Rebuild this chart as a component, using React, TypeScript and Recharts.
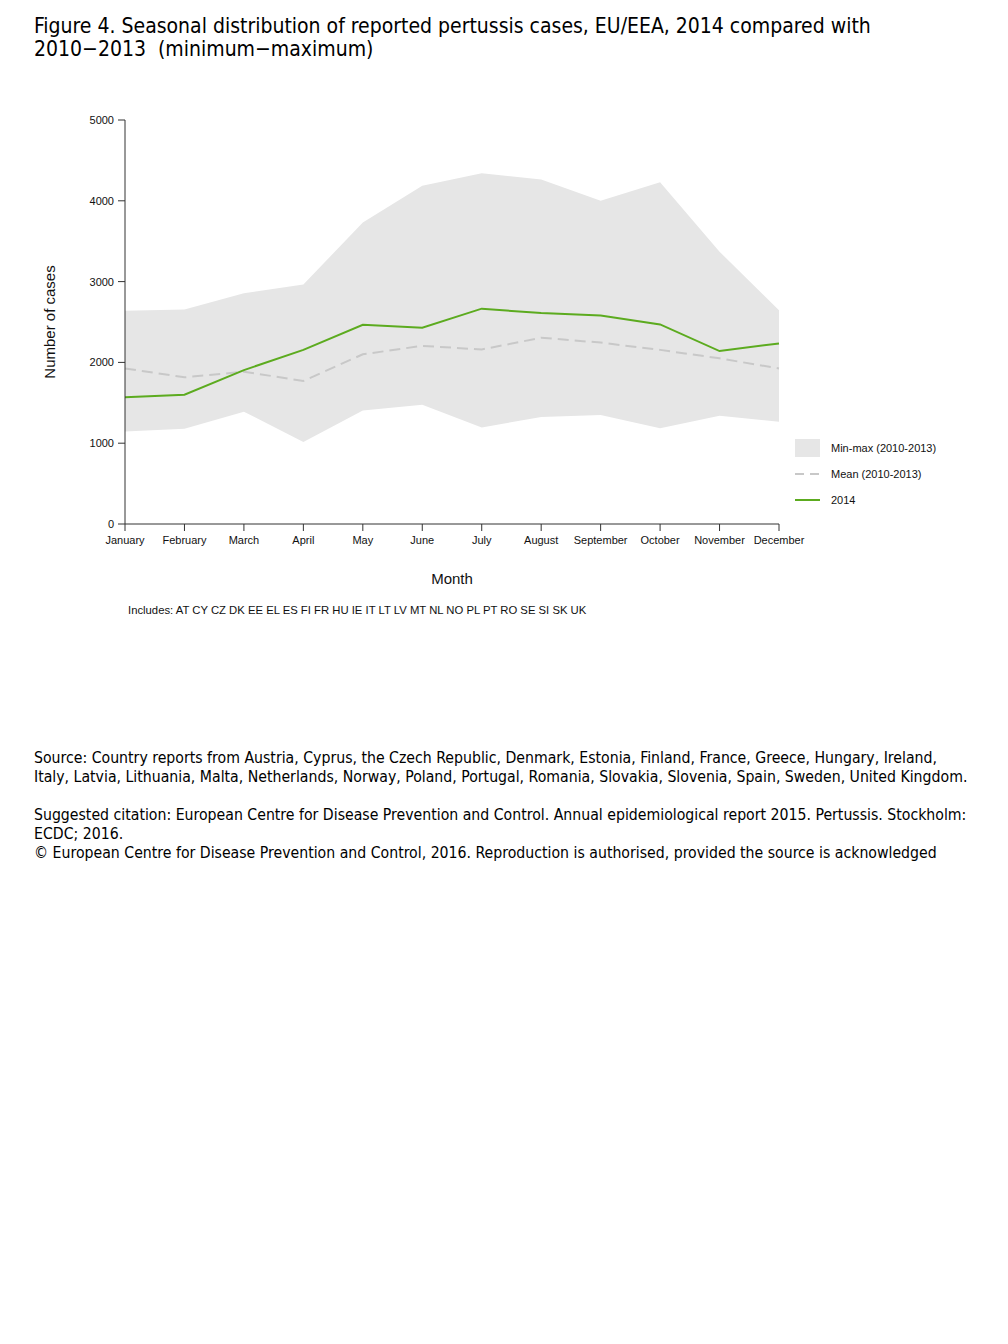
import { Area, ComposedChart, Line, XAxis, YAxis } from 'recharts'

const MONTHS = [
  'January', 'February', 'March', 'April', 'May', 'June',
  'July', 'August', 'September', 'October', 'November', 'December',
]
const MIN_2010_2013 = [1145, 1180, 1390, 1015, 1405, 1475, 1195, 1325, 1350, 1185, 1340, 1265]
const MAX_2010_2013 = [2640, 2655, 2855, 2965, 3730, 4185, 4340, 4265, 4000, 4230, 3370, 2645]
const MEAN_2010_2013 = [1925, 1815, 1885, 1770, 2100, 2205, 2160, 2305, 2245, 2155, 2050, 1925]
const CASES_2014 = [1570, 1600, 1905, 2155, 2465, 2430, 2665, 2610, 2580, 2470, 2140, 2235]
const Y_TICKS = [0, 1000, 2000, 3000, 4000, 5000]

const COLORS = {
  band: '#e6e6e6',
  mean: '#c8c8c8',
  y2014: '#5cab1f',
  axis: '#333333',
}

const CHART_FONT = 'Arial, "Liberation Sans", sans-serif'
const TEXT_FONT = '"DejaVu Sans Condensed", "DejaVu Sans", sans-serif'

const data = MONTHS.map((month, i) => ({
  month,
  range: [MIN_2010_2013[i], MAX_2010_2013[i]],
  mean: MEAN_2010_2013[i],
  y2014: CASES_2014[i],
}))

function LegendBox() {
  const item = { display: 'flex', alignItems: 'center', height: 26 }
  const label = { marginLeft: 11, fontSize: 11, color: '#111', fontFamily: CHART_FONT }
  return (
    <div style={{ position: 'absolute', left: 795, top: 435 }}>
      <div style={item}>
        <svg width={25} height={18}><rect width={25} height={18} fill={COLORS.band} /></svg>
        <span style={label}>Min-max (2010-2013)</span>
      </div>
      <div style={item}>
        <svg width={25} height={4}>
          <line x1={0} x2={25} y1={2} y2={2} stroke={COLORS.mean} strokeWidth={2} strokeDasharray="9 6" />
        </svg>
        <span style={label}>Mean (2010-2013)</span>
      </div>
      <div style={item}>
        <svg width={25} height={4}>
          <line x1={0} x2={25} y1={2} y2={2} stroke={COLORS.y2014} strokeWidth={2} />
        </svg>
        <span style={label}>2014</span>
      </div>
    </div>
  )
}

export default function App() {
  const textBlock = { position: 'absolute' as const, left: 34, fontFamily: TEXT_FONT, color: '#000', whiteSpace: 'pre' as const }
  return (
    <div style={{ position: 'absolute', left: 0, top: 0, width: 1008, height: 1344, background: '#fff' }}>
      <div style={{ ...textBlock, top: 15, fontSize: 21, lineHeight: '23px' }}>
        {'Figure 4. Seasonal distribution of reported pertussis cases, EU/EEA, 2014 compared with'}<br />
        {'2010−2013  (minimum−maximum)'}
      </div>

      <div style={{ position: 'absolute', left: 0, top: 0 }}>
        <ComposedChart
          width={1008}
          height={620}
          data={data}
          margin={{ top: 120, right: 229, bottom: 66, left: 65 }}
          style={{ fontFamily: CHART_FONT }}
        >
          <XAxis
            dataKey="month"
            scale="point"
            interval={0}
            height={30}
            tick={{ fill: '#111', fontSize: 11 }}
            tickSize={7}
            tickMargin={5}
            axisLine={{ stroke: COLORS.axis }}
            tickLine={{ stroke: COLORS.axis }}
            label={{ value: 'Month', position: 'bottom', offset: 19, fontSize: 15, fill: '#111' }}
          />
          <YAxis
            width={60}
            domain={[0, 5000]}
            ticks={Y_TICKS}
            interval={0}
            tick={{ fill: '#111', fontSize: 11 }}
            tickSize={7}
            tickMargin={4}
            axisLine={{ stroke: COLORS.axis }}
            tickLine={{ stroke: COLORS.axis }}
          />
          <Area
            type="linear"
            dataKey="range"
            stroke="none"
            fill={COLORS.band}
            fillOpacity={1}
            isAnimationActive={false}
          />
          <Line
            type="linear"
            dataKey="mean"
            stroke={COLORS.mean}
            strokeWidth={2}
            strokeDasharray="11 6"
            dot={false}
            activeDot={false}
            isAnimationActive={false}
          />
          <Line
            type="linear"
            dataKey="y2014"
            stroke={COLORS.y2014}
            strokeWidth={2}
            dot={false}
            activeDot={false}
            isAnimationActive={false}
          />
        </ComposedChart>
      </div>

      <LegendBox />

      <div
        style={{
          position: 'absolute', left: 49, top: 322, fontFamily: CHART_FONT, fontSize: 15, color: '#111',
          transform: 'translate(-50%, -50%) rotate(-90deg)', whiteSpace: 'nowrap',
        }}
      >
        Number of cases
      </div>

      <div style={{ position: 'absolute', left: 128, top: 604, fontFamily: CHART_FONT, fontSize: 11.3, color: '#111', whiteSpace: 'nowrap' }}>
        Includes: AT CY CZ DK EE EL ES FI FR HU IE IT LT LV MT NL NO PL PT RO SE SI SK UK
      </div>

      <div style={{ ...textBlock, top: 748, fontSize: 15.7, lineHeight: '19px' }}>
        {'Source: Country reports from Austria, Cyprus, the Czech Republic, Denmark, Estonia, Finland, France, Greece, Hungary, Ireland,'}<br />
        {'Italy, Latvia, Lithuania, Malta, Netherlands, Norway, Poland, Portugal, Romania, Slovakia, Slovenia, Spain, Sweden, United Kingdom.'}
      </div>
      <div style={{ ...textBlock, top: 805, fontSize: 15.7, lineHeight: '19px' }}>
        {'Suggested citation: European Centre for Disease Prevention and Control. Annual epidemiological report 2015. Pertussis. Stockholm:'}<br />
        {'ECDC; 2016.'}<br />
        {'© European Centre for Disease Prevention and Control, 2016. Reproduction is authorised, provided the source is acknowledged'}
      </div>
    </div>
  )
}
